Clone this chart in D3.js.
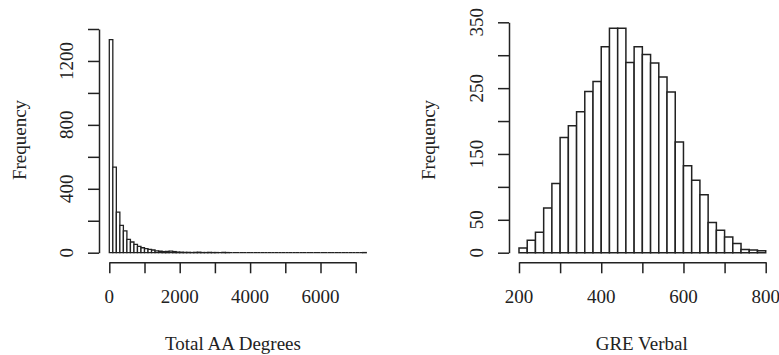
<!DOCTYPE html>
<html>
<head>
<meta charset="utf-8">
<script src="https://cdn.jsdelivr.net/npm/d3@7"></script>
<style>
  html, body { margin: 0; padding: 0; background: #fff; }
  svg { display: block; }
  text { font-family: "Liberation Serif", "Times New Roman", serif; fill: #222; }
</style>
</head>
<body>
<svg id="chart" width="779" height="355"></svg>
<script>
// ---- Data ----
// Left histogram: Total AA Degrees, bin width 100, starting at 0
const aaBinWidth = 100;
const aaCounts = [1334, 536, 254, 171, 137, 84, 67, 52, 40, 31,
                  25, 21, 17, 12, 9, 7, 8, 10, 7, 4,
                  3, 2, 2, 1, 2, 3, 1, 1, 2, 1,
                  1, 0, 2, 1, 0, 0, 0, 0, 0, 0,
                  0, 0, 0, 0, 0, 0, 0, 0, 0, 0,
                  0, 0, 0, 0, 0, 0, 0, 0, 0, 0,
                  0, 0, 0, 0, 0, 0, 0, 0, 0, 0,
                  0, 0, 1];
const aaXTicks = [0, 1000, 2000, 3000, 4000, 5000, 6000, 7000];
const aaXLabels = [0, 2000, 4000, 6000];
const aaYTicks = [0, 200, 400, 600, 800, 1000, 1200, 1400];
const aaYLabels = [0, 400, 800, 1200];

// Right histogram: GRE Verbal, bin width 20, starting at 200
const greStart = 200;
const greBinWidth = 20;
const greCounts = [7, 19, 31, 68, 105, 175, 193, 214, 245, 260,
                   313, 341, 341, 289, 313, 301, 288, 267, 244, 168,
                   132, 110, 88, 46, 34, 24, 14, 5, 4, 3];
const greXTicks = [200, 300, 400, 500, 600, 700, 800];
const greXLabels = [200, 400, 600, 800];
const greYTicks = [0, 50, 100, 150, 200, 250, 300, 350];
const greYLabels = [0, 50, 150, 250, 350];

const xTitleLeft = "Total AA Degrees";
const xTitleRight = "GRE Verbal";
const yTitle = "Frequency";

// ---- Drawing ----
const svg = d3.select("#chart");
const ink = "#222";
const fontSize = 19;

function panel(cfg) {
  const g = svg.append("g");
  const x = d3.scaleLinear().domain(cfg.xDomain).range(cfg.xRange);
  const y = d3.scaleLinear().domain(cfg.yDomain).range(cfg.yRange);

  const bins = cfg.counts.map((c, i) => ({
    x0: cfg.start + i * cfg.width,
    x1: cfg.start + (i + 1) * cfg.width,
    c: c
  }));

  g.selectAll("path.bar").data(bins).enter().append("path")
    .attr("class", "bar")
    .attr("d", d => {
      const p = d3.path();
      p.moveTo(x(d.x0), y(0));
      p.lineTo(x(d.x0), y(d.c));
      p.lineTo(x(d.x1), y(d.c));
      p.lineTo(x(d.x1), y(0));
      p.closePath();
      return p.toString();
    })
    .attr("fill", "#fff")
    .attr("stroke", ink)
    .attr("stroke-width", cfg.barStroke);

  // x axis
  const xAxis = d3.axisBottom(x).tickValues(cfg.xTicks).tickFormat("")
    .tickSizeOuter(0).tickSizeInner(11);
  const xg = g.append("g").attr("transform", `translate(0,${cfg.xAxisY})`).call(xAxis);
  xg.selectAll("path, line").attr("stroke", ink).attr("stroke-width", 1.5);

  g.selectAll("text.xl").data(cfg.xLabels).enter().append("text")
    .attr("class", "xl")
    .attr("x", d => x(d))
    .attr("y", 303.3)
    .attr("text-anchor", "middle")
    .attr("font-size", fontSize)
    .text(d => d);

  // y axis
  const yAxis = d3.axisLeft(y).tickValues(cfg.yTicks).tickFormat("")
    .tickSizeOuter(0).tickSizeInner(11);
  const yg = g.append("g").attr("transform", `translate(${cfg.yAxisX},0)`).call(yAxis);
  yg.selectAll("path, line").attr("stroke", ink).attr("stroke-width", 1.5);

  g.selectAll("text.yl").data(cfg.yLabels).enter().append("text")
    .attr("class", "yl")
    .attr("transform", d => `translate(${cfg.yAxisX - 26},${y(d)}) rotate(-90)`)
    .attr("text-anchor", "middle")
    .attr("font-size", fontSize)
    .text(d => d);

  // titles
  g.append("text")
    .attr("x", cfg.xTitleX).attr("y", 349.5)
    .attr("text-anchor", "middle")
    .attr("font-size", fontSize)
    .text(cfg.xTitle);

  g.append("text")
    .attr("transform", `translate(${cfg.yTitleX},140) rotate(-90)`)
    .attr("text-anchor", "middle")
    .attr("font-size", fontSize)
    .text(yTitle);
}

panel({
  counts: aaCounts, start: 0, width: aaBinWidth,
  xDomain: [0, 7000], xRange: [109.3, 355.7],
  yDomain: [0, 1400], yRange: [252.7, 29],
  xTicks: aaXTicks, xLabels: aaXLabels,
  yTicks: aaYTicks, yLabels: aaYLabels,
  xAxisY: 262.3, yAxisX: 99,
  xTitle: xTitleLeft, xTitleX: 233, yTitleX: 25.5,
  barStroke: 1.3
});

panel({
  counts: greCounts, start: greStart, width: greBinWidth,
  xDomain: [200, 800], xRange: [519, 765.7],
  yDomain: [0, 350], yRange: [252.7, 22.3],
  xTicks: greXTicks, xLabels: greXLabels,
  yTicks: greYTicks, yLabels: greYLabels,
  xAxisY: 262.3, yAxisX: 509,
  xTitle: xTitleRight, xTitleX: 641.7, yTitleX: 435,
  barStroke: 1.5
});
</script>
</body>
</html>
